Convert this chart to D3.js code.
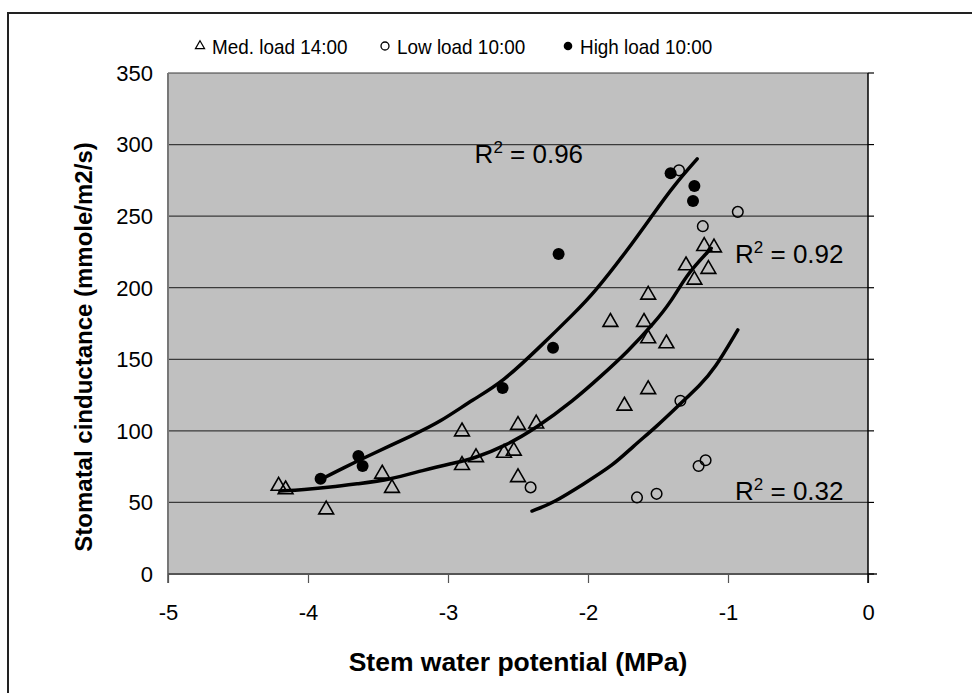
<!DOCTYPE html>
<html>
<head>
<meta charset="utf-8">
<script src="https://cdn.jsdelivr.net/npm/d3@7"></script>
<style>
  html, body { margin: 0; padding: 0; background: #fff; }
  svg text { font-family: "Liberation Sans", Arial, sans-serif; fill: #000; }
</style>
</head>
<body>
<div id="chart"></div>
<script>
// scatter series: [stem water potential (MPa), conductance]
const medLoad = [
  [-4.21, 61.5], [-4.16, 59], [-3.87, 45], [-3.47, 70], [-3.40, 60],
  [-2.90, 99.5], [-2.90, 76], [-2.80, 81.5], [-2.60, 84.5], [-2.53, 86],
  [-2.50, 67.5], [-2.50, 104], [-2.37, 105], [-1.84, 176], [-1.74, 117.5],
  [-1.60, 176], [-1.57, 195], [-1.57, 164.5], [-1.57, 129], [-1.44, 161],
  [-1.30, 215.5], [-1.24, 205.5], [-1.17, 229], [-1.14, 213], [-1.10, 228]
];
const lowLoad = [
  [-2.41, 60.5], [-1.65, 53.5], [-1.51, 56], [-1.34, 121], [-1.21, 75.5],
  [-1.16, 79.5], [-1.35, 282], [-0.93, 253], [-1.18, 243]
];
const highLoad = [
  [-3.91, 66.5], [-3.64, 82.5], [-3.61, 75.5], [-2.61, 130], [-2.25, 158],
  [-2.21, 223.5], [-1.41, 280], [-1.24, 271], [-1.25, 260.5]
];

// trend lines
const highFit = [
  [-3.91, 66], [-3.75, 74], [-3.56, 83], [-3.25, 97], [-3.06, 106], [-2.82, 122],
  [-2.61, 134], [-2.34, 159], [-2.10, 182], [-1.96, 196], [-1.72, 226],
  [-1.53, 252], [-1.39, 271], [-1.22, 290]
];
const medFit = [
  [-4.20, 58], [-4.03, 59], [-3.84, 60.6], [-3.65, 63], [-3.41, 66], [-3.18, 72.5],
  [-2.96, 77.5], [-2.82, 80.5], [-2.58, 90], [-2.37, 102], [-2.10, 121.5],
  [-1.91, 138], [-1.72, 155], [-1.53, 175], [-1.40, 191], [-1.29, 210], [-1.12, 227.5]
];
const lowFit = [
  [-2.40, 44], [-2.25, 49.5], [-2.03, 63], [-1.82, 76], [-1.68, 89], [-1.51, 103],
  [-1.34, 119], [-1.20, 132], [-1.10, 142.5], [-0.93, 170.5]
];

const r2Values = ['0.96', '0.92', '0.32'];
const legendLabels = ['Med. load 14:00', 'Low load 10:00', 'High load 10:00'];
const xTicks = [-5, -4, -3, -2, -1, 0];
const yTicks = [0, 50, 100, 150, 200, 250, 300, 350];

const width = 972, height = 693;
const plot = {left: 168, right: 868, top: 73, bottom: 574};

const svg = d3.select('#chart').append('svg')
  .attr('width', width)
  .attr('height', height);

// outer chart frame (runs off the picture on the right and bottom)
svg.append('rect')
  .attr('x', 8).attr('y', 13)
  .attr('width', 1000).attr('height', 1000)
  .attr('fill', '#fff')
  .attr('stroke', '#222')
  .attr('stroke-width', 2);

const x = d3.scaleLinear().domain([-5, 0]).range([plot.left, plot.right]);
const y = d3.scaleLinear().domain([0, 350]).range([plot.bottom, plot.top]);

svg.append('rect')
  .attr('x', plot.left).attr('y', plot.top)
  .attr('width', plot.right - plot.left)
  .attr('height', plot.bottom - plot.top)
  .attr('fill', '#c0c0c0');

// gridlines
svg.append('g')
  .selectAll('line')
  .data(yTicks.filter(d => d > 0))
  .join('line')
  .attr('x1', plot.left).attr('x2', plot.right)
  .attr('y1', d => y(d)).attr('y2', d => y(d))
  .attr('stroke', '#3a3a3a')
  .attr('stroke-width', 1.2);

// left border of plot area
svg.append('line')
  .attr('x1', plot.left).attr('x2', plot.left)
  .attr('y1', plot.top).attr('y2', plot.bottom + 9)
  .attr('stroke', '#777')
  .attr('stroke-width', 2);

// x axis
const xAxis = svg.append('g')
  .attr('transform', `translate(0,${plot.bottom})`)
  .call(d3.axisBottom(x).tickValues(xTicks).tickSize(9).tickSizeOuter(0).tickFormat(d => String(d)));
xAxis.select('.domain').remove();
xAxis.selectAll('.tick line').attr('stroke', '#555').attr('stroke-width', 1.2);
xAxis.selectAll('.tick text')
  .attr('y', 30)
  .style('font-size', '22px');
svg.append('line')
  .attr('x1', plot.left).attr('x2', plot.right + 9)
  .attr('y1', plot.bottom).attr('y2', plot.bottom)
  .attr('stroke', '#555')
  .attr('stroke-width', 2);

// y axis sits at x = 0 (right side), labels drawn at the low end
svg.append('line')
  .attr('x1', plot.right).attr('x2', plot.right)
  .attr('y1', plot.top).attr('y2', plot.bottom + 9)
  .attr('stroke', '#000')
  .attr('stroke-width', 1.5);
svg.append('g')
  .selectAll('line')
  .data(yTicks)
  .join('line')
  .attr('x1', plot.right).attr('x2', plot.right + 6)
  .attr('y1', d => y(d)).attr('y2', d => y(d))
  .attr('stroke', '#000')
  .attr('stroke-width', 1.2);
svg.append('g')
  .selectAll('text')
  .data(yTicks)
  .join('text')
  .attr('x', plot.left - 15)
  .attr('y', d => y(d))
  .attr('dy', '0.36em')
  .attr('text-anchor', 'end')
  .style('font-size', '22px')
  .text(d => d);

// trend lines
const line = d3.line()
  .x(d => x(d[0]))
  .y(d => y(d[1]))
  .curve(d3.curveBasis);
[highFit, medFit, lowFit].forEach(fit => {
  svg.append('path')
    .attr('d', line(fit))
    .attr('fill', 'none')
    .attr('stroke', '#000')
    .attr('stroke-width', 3.5)
    .attr('stroke-linecap', 'round');
});

// markers
const tri = d3.symbol().type(d3.symbolTriangle).size(95);
svg.append('g')
  .selectAll('path')
  .data(medLoad)
  .join('path')
  .attr('transform', d => `translate(${x(d[0])},${y(d[1])})`)
  .attr('d', tri)
  .attr('fill', 'none')
  .attr('stroke', '#000')
  .attr('stroke-width', 1.6);

svg.append('g')
  .selectAll('circle')
  .data(lowLoad)
  .join('circle')
  .attr('cx', d => x(d[0])).attr('cy', d => y(d[1]))
  .attr('r', 5.3)
  .attr('fill', 'none')
  .attr('stroke', '#000')
  .attr('stroke-width', 1.5);

svg.append('g')
  .selectAll('circle')
  .data(highLoad)
  .join('circle')
  .attr('cx', d => x(d[0])).attr('cy', d => y(d[1]))
  .attr('r', 6)
  .attr('fill', '#000');

// R² labels, anchored in data units
const r2Anchors = [[-2.81, 287], [-0.95, 217], [-0.95, 52]];
r2Values.forEach((v, i) => {
  const t = svg.append('text')
    .attr('x', x(r2Anchors[i][0]))
    .attr('y', y(r2Anchors[i][1]))
    .style('font-size', '26px');
  t.append('tspan').text('R');
  t.append('tspan').attr('dy', -10).style('font-size', '17px').text('2');
  t.append('tspan').attr('dy', 10).text(' = ' + v);
});

// legend (text a little condensed, as in the original)
const legendX = [200, 385, 568];
const legend = svg.append('g');
legendLabels.forEach((label, i) => {
  const g = legend.append('g').attr('transform', `translate(${legendX[i]},46)`);
  if (i === 0) {
    g.append('path').attr('d', d3.symbol().type(d3.symbolTriangle).size(36))
      .attr('fill', 'none').attr('stroke', '#000').attr('stroke-width', 1.2);
  } else if (i === 1) {
    g.append('circle').attr('r', 4).attr('fill', 'none').attr('stroke', '#000').attr('stroke-width', 1.3);
  } else {
    g.append('circle').attr('r', 4.3).attr('fill', '#000');
  }
  g.append('text')
    .attr('transform', 'translate(12,0) scale(0.9,1)')
    .attr('dy', '0.36em')
    .style('font-size', '21px')
    .text(label);
});

// axis titles
svg.append('text')
  .attr('x', 518)
  .attr('y', 671)
  .attr('text-anchor', 'middle')
  .style('font-size', '26.5px')
  .style('font-weight', 'bold')
  .text('Stem water potential (MPa)');

svg.append('text')
  .attr('transform', `translate(92,347) rotate(-90)`)
  .attr('text-anchor', 'middle')
  .style('font-size', '24px')
  .style('font-weight', 'bold')
  .text('Stomatal cinductance (mmole/m2/s)');
</script>
</body>
</html>
